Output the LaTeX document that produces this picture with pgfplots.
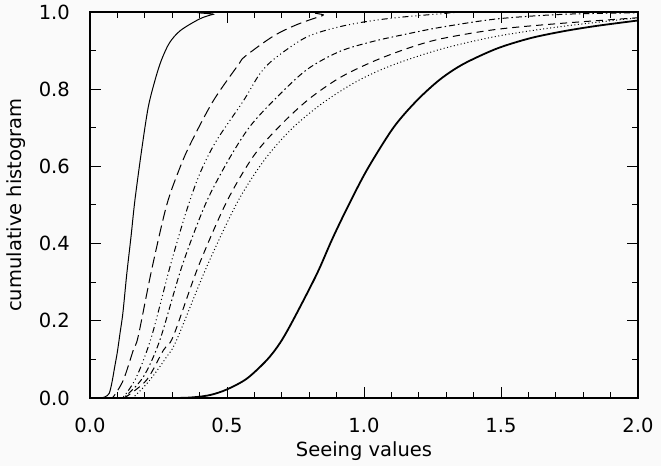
\documentclass[border=0pt]{standalone}
\usepackage{fontspec}
\setmainfont{DejaVu Sans}
\usepackage{pgfplots}
\pgfplotsset{compat=1.18}
\definecolor{bg}{RGB}{250,250,250}

\begin{document}
\begin{tikzpicture}
\fill[bg] (-90pt,-68pt) rectangle (571pt,398pt);
\begin{axis}[
    at={(0,0)}, anchor=south west,
    scale only axis,
    width=548pt, height=386pt,
    xmin=0, xmax=2, ymin=0, ymax=1,
    xtick={0,0.5,1,1.5,2}, ytick={0,0.2,0.4,0.6,0.8,1},
    minor x tick num=4, minor y tick num=1,
    tick pos=both, tick align=inside,
    major tick length=11pt, minor tick length=6pt,
    every tick/.style={line width=1pt, black},
    axis line style={line width=1.2pt},
    font=\fontsize{19.5}{22}\selectfont,
    /pgf/number format/assume math mode=true,
    /pgf/number format/.cd, fixed, fixed zerofill, precision=1, /pgfplots/.cd,
    xticklabel style={inner sep=0pt, anchor=north, yshift=-20pt},
    yticklabel style={inner sep=0pt, anchor=east, xshift=-20pt},
    xlabel={Seeing values},
    ylabel={cumulative histogram},
    xlabel style={at={(axis description cs:0.5,0)}, anchor=north, inner sep=0pt, yshift=-43pt},
    ylabel style={at={(axis description cs:0,0.5)}, anchor=south, inner sep=0pt, yshift=64pt},
    every axis plot/.append style={black, line width=1pt, smooth, tension=0.5, mark=none},
]
% solid thin
\addplot[solid] coordinates {(0,0) (0.036,0) (0.055,0.003) (0.07,0.012) (0.08,0.04) (0.09,0.08) (0.1,0.12) (0.11,0.17) (0.12,0.22) (0.134,0.32) (0.15,0.42) (0.164,0.513) (0.189,0.645) (0.213,0.755) (0.24,0.83) (0.261,0.876) (0.29,0.92) (0.33,0.952) (0.40,0.982) (0.45,0.994) (0.5,1.0) (2,1)};
% long dash
\addplot[dash pattern=on 11pt off 5pt] coordinates {(0,0) (0.07,0) (0.085,0.003) (0.122,0.047) (0.158,0.124) (0.176,0.16) (0.225,0.332) (0.28,0.5) (0.33,0.6) (0.371,0.665) (0.45,0.77) (0.541,0.863) (0.566,0.885) (0.668,0.937) (0.754,0.967) (0.85,0.991) (0.9,1.0) (2,1)};
% dash dot dot dot
\addplot[dash pattern=on 6pt off 3pt on 1pt off 3pt on 1pt off 3pt on 1pt off 3pt] coordinates {(0,0) (0.1,0) (0.122,0.003) (0.17,0.055) (0.225,0.16) (0.292,0.34) (0.35,0.48) (0.4,0.58) (0.46,0.665) (0.56,0.77) (0.62,0.84) (0.675,0.88) (0.79,0.935) (0.912,0.962) (1.034,0.978) (1.156,0.988) (1.277,0.995) (1.4,1.0) (2,1)};
% dash dot
\addplot[dash pattern=on 6pt off 3pt on 1.5pt off 3pt] coordinates {(0,0) (0.11,0) (0.127,0.003) (0.195,0.055) (0.255,0.15) (0.335,0.34) (0.42,0.5) (0.5,0.61) (0.58,0.7) (0.669,0.77) (0.79,0.85) (0.912,0.898) (1.034,0.924) (1.156,0.943) (1.277,0.96) (1.484,0.982) (1.727,0.994) (2,0.998)};
% dashed
\addplot[dash pattern=on 7pt off 5pt] coordinates {(0,0) (0.12,0) (0.13,0.002) (0.207,0.047) (0.268,0.124) (0.304,0.16) (0.395,0.34) (0.5,0.51) (0.6,0.63) (0.7,0.71) (0.8,0.775) (0.912,0.83) (1.034,0.872) (1.156,0.905) (1.277,0.93) (1.484,0.955) (1.727,0.971) (2,0.985)};
% dotted
\addplot[dash pattern=on 1pt off 2.5pt] coordinates {(0,0) (0.13,0) (0.158,0.002) (0.219,0.047) (0.28,0.107) (0.316,0.15) (0.426,0.34) (0.54,0.51) (0.64,0.62) (0.74,0.7) (0.851,0.765) (0.973,0.82) (1.095,0.86) (1.277,0.903) (1.484,0.937) (1.727,0.963) (2,0.985)};
% thick solid
\addplot[line width=1.8pt] coordinates {(0,0) (0.3,0) (0.38,0.002) (0.44,0.008) (0.499,0.022) (0.572,0.05) (0.645,0.098) (0.693,0.142) (0.74,0.2) (0.827,0.32) (0.883,0.41) (0.937,0.49) (1.01,0.59) (1.107,0.7) (1.192,0.77) (1.277,0.825) (1.362,0.865) (1.484,0.905) (1.606,0.932) (1.727,0.95) (1.849,0.964) (2,0.978)};
\end{axis}
\end{tikzpicture}
\end{document}
